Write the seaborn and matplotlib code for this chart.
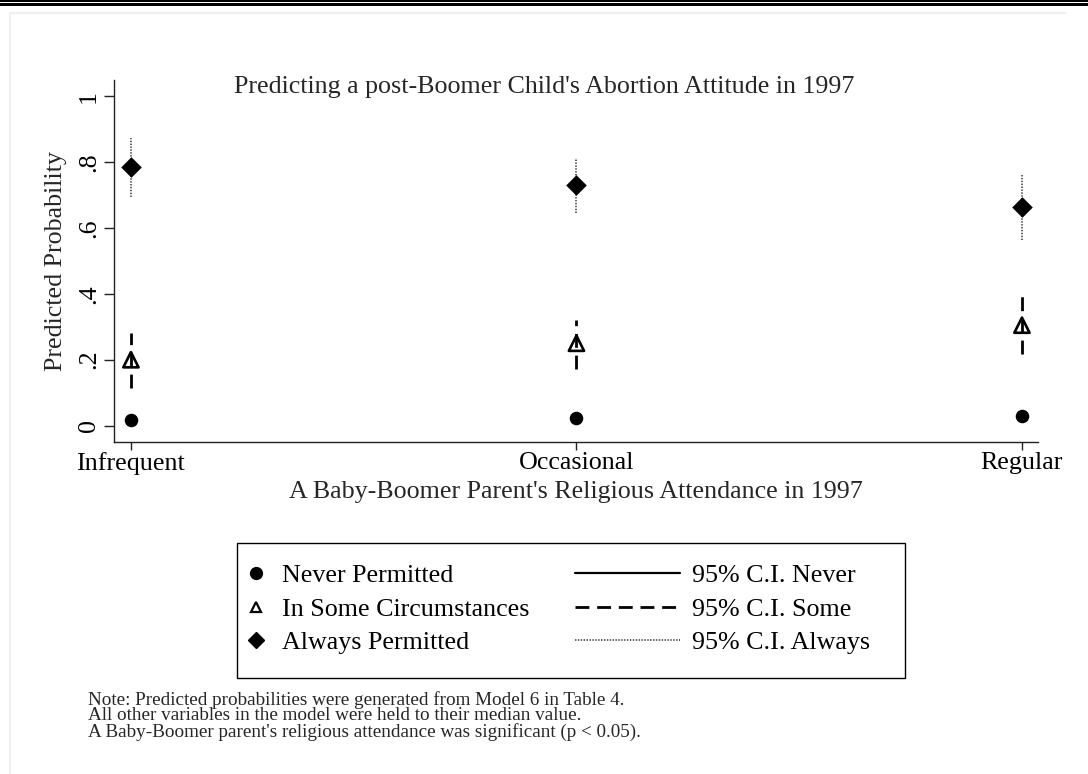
import numpy as np
import pandas as pd
import matplotlib
matplotlib.use("Agg")
import matplotlib.pyplot as plt
import seaborn as sns
from matplotlib.lines import Line2D
from matplotlib.patches import Rectangle

# ---------------- data ----------------
categories = ["Infrequent", "Occasional", "Regular"]
never_p = [0.017, 0.023, 0.030]
never_lo = [0.008, 0.012, 0.016]
never_hi = [0.028, 0.035, 0.045]
some_p = [0.200, 0.250, 0.305]
some_lo = [0.115, 0.172, 0.217]
some_hi = [0.280, 0.320, 0.397]
always_p = [0.786, 0.730, 0.663]
always_lo = [0.694, 0.645, 0.563]
always_hi = [0.873, 0.812, 0.763]
series_names = ["Never Permitted", "In Some Circumstances", "Always Permitted"]
ci_names = ["95% C.I. Never", "95% C.I. Some", "95% C.I. Always"]
ytick_vals = [0, 0.2, 0.4, 0.6, 0.8, 1.0]
ytick_labels = ["0", ".2", ".4", ".6", ".8", "1"]
title = "Predicting a post-Boomer Child's Abortion Attitude in 1997"
xlabel = "A Baby-Boomer Parent's Religious Attendance in 1997"
ylabel = "Predicted Probability"
notes = ["Note: Predicted probabilities were generated from Model 6 in Table 4.",
         "All other variables in the model were held to their median value.",
         "A Baby-Boomer parent's religious attendance was significant (p < 0.05)."]

sns.set_theme(style="white")
plt.rcParams["font.family"] = ["Liberation Serif", "DejaVu Serif"]

W, H = 1088, 774
FS = 18.7
fig = plt.figure(figsize=(W / 100, H / 100), dpi=100)
fig.patch.set_facecolor("white")

def fx(px):
    return px / W

def fy(py):
    return 1 - py / H

ax = fig.add_axes([fx(114), fy(442), fx(1038) - fx(114), fy(80) - fy(442)])
ax.set_facecolor("white")

df = pd.DataFrame({
    "cat": categories * 3,
    "series": sum([[s] * 3 for s in series_names], []),
    "p": never_p + some_p + always_p,
    "lo": never_lo + some_lo + always_lo,
    "hi": never_hi + some_hi + always_hi,
})

ci_styles = {
    "Never Permitted": dict(color="black", lw=1.6, linestyle="-"),
    "In Some Circumstances": dict(color="black", lw=2.0, linestyle=(0, (5.0, 2.8))),
    "Always Permitted": dict(color="#555555", lw=1.3, linestyle=(0, (0.8, 0.8))),
}
for s in series_names:
    d = df[df.series == s]
    ax.vlines(d["cat"], d["lo"], d["hi"], zorder=2, **ci_styles[s])

mk = {
    "Never Permitted": dict(marker="o", s=95, color="black", edgecolor="black", linewidth=0),
    "In Some Circumstances": dict(marker="^", s=120, facecolor="none", edgecolor="black", linewidth=1.9),
    "Always Permitted": dict(marker="D", s=110, color="black", edgecolor="black", linewidth=0),
}
for s in series_names:
    d = df[df.series == s]
    sns.scatterplot(data=d, x="cat", y="p", ax=ax, zorder=3, legend=False, **mk[s])

ax.set_xlim(-0.038, 2.036)
ax.set_ylim(-0.05, 1.05)
ax.set_yticks(ytick_vals)
ax.set_yticklabels(ytick_labels, rotation=90, va="center")
ax.set_xlabel("")
ax.set_ylabel("")
for sp in ["top", "right"]:
    ax.spines[sp].set_visible(False)
for sp in ["left", "bottom"]:
    ax.spines[sp].set_color("#222222")
    ax.spines[sp].set_linewidth(1.0)
ax.tick_params(axis="y", which="both", direction="out", length=7, width=1.0,
               color="#222222", labelsize=FS, labelcolor="black", pad=3, left=True)
ax.tick_params(axis="x", which="both", direction="out", length=6, width=1.0,
               color="#222222", labelsize=FS, labelcolor="black", pad=1.5, bottom=True)
ax.grid(False)

fig.text(0.5, fy(87), title, ha="center", va="center", fontsize=FS)
fig.text(fx(576), fy(492), xlabel, ha="center", va="center", fontsize=FS)
fig.text(fx(56), fy(261), ylabel, ha="center", va="center", rotation=90, fontsize=FS)

# legend: markers column + CI lines column inside a common frame
px_per_em = FS * 100 / 72
mhandles = [
    Line2D([], [], marker="o", color="black", linestyle="none", markersize=8.5),
    Line2D([], [], marker="^", markerfacecolor="none", markeredgecolor="black", markeredgewidth=1.6,
           linestyle="none", markersize=7.5),
    Line2D([], [], marker="D", color="black", linestyle="none", markersize=8.5),
]
lhandles = [Line2D([], [], **ci_styles[s]) for s in series_names]
common = dict(fontsize=FS, frameon=False, labelspacing=0.4, borderpad=0.0,
              borderaxespad=0.0, handleheight=0.7)
leg1 = fig.legend(mhandles, series_names, loc="center left",
                  bbox_to_anchor=(fx(246), fy(609)), handlelength=0.8,
                  handletextpad=0.6, **common)
leg2 = fig.legend(lhandles, ci_names, loc="center left",
                  bbox_to_anchor=(fx(575), fy(609)), handlelength=105 / px_per_em,
                  handletextpad=0.45, **common)
for lg in (leg1, leg2):
    for t in lg.get_texts():
        t.set_color("black")
fig.add_artist(Rectangle((fx(237), fy(678)), fx(905) - fx(237), fy(543) - fy(678),
                         transform=fig.transFigure, facecolor="none", edgecolor="black", lw=1.0))

for i, n in enumerate(notes):
    fig.text(fx(88), fy(700 + 16 * i), n, ha="left", va="center", fontsize=13.8)

# decorative borders
fig.add_artist(Rectangle((0, fy(1.5)), 1, 1.5 / H, transform=fig.transFigure, color="black", lw=0))
fig.add_artist(Rectangle((0, fy(6)), 1, 2.5 / H, transform=fig.transFigure, color="black", lw=0))
fig.add_artist(Line2D([fx(10), fx(1066)], [fy(13), fy(13)], transform=fig.transFigure, color="#eeeeee", lw=1.2))
fig.add_artist(Line2D([fx(10), fx(10)], [fy(13), 0], transform=fig.transFigure, color="#eeeeee", lw=1.2))

fig.savefig("out.png", dpi=100, facecolor="white")
